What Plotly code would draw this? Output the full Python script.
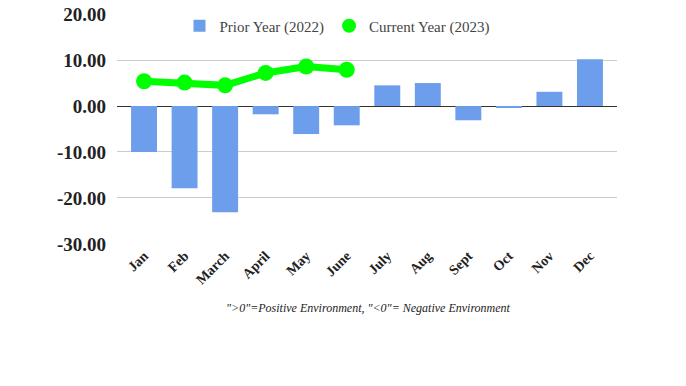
import plotly.graph_objects as go

months = ["Jan", "Feb", "March", "April", "May", "June", "July", "Aug", "Sept", "Oct", "Nov", "Dec"]
prior_year = [-10.0, -17.9, -23.1, -1.8, -6.1, -4.2, 4.5, 5.0, -3.1, -0.3, 3.1, 10.2]
current_months = ["Jan", "Feb", "March", "April", "May", "June"]
current_year = [5.4, 5.1, 4.5, 7.2, 8.6, 7.9]
y_ticks = [20, 10, 0, -10, -20, -30]
y_tick_text = ["20.00", "10.00", "0.00", "-10.00", "-20.00", "-30.00"]

serif = "Liberation Serif, Times New Roman, serif"

fig = go.Figure()
fig.add_trace(go.Bar(x=months, y=prior_year, name="Prior Year (2022)",
                     marker=dict(color="#6d9eeb", line=dict(width=0))))
fig.add_trace(go.Scatter(x=current_months, y=current_year, name="Current Year (2023)",
                         mode="lines+markers", showlegend=False,
                         line=dict(color="#00ff00", width=7),
                         marker=dict(color="#00ff00", size=16)))
# legend entry showing only the marker, as in the reference
fig.add_trace(go.Scatter(x=[None], y=[None], name="Current Year (2023)",
                         mode="markers", marker=dict(color="#00ff00", size=14)))

fig.update_layout(
    width=686, height=386,
    margin=dict(l=117, r=69, t=14, b=142, autoexpand=False),
    paper_bgcolor="white", plot_bgcolor="white",
    bargap=0.36,
    font=dict(family=serif, color="#222"),
    showlegend=True,
    legend=dict(orientation="h", x=0.44, y=0.948, xanchor="center", yanchor="middle",
                font=dict(family=serif, size=15, color="#444"),
                bgcolor="rgba(0,0,0,0)", itemwidth=30, tracegroupgap=0),
    xaxis=dict(type="category", range=[-0.667, 11.667], tickangle=-45, automargin=False,
               tickfont=dict(family=serif, size=14, color="#222", weight="bold"),
               showgrid=False, showline=False, ticks=""),
    yaxis=dict(range=[-30.03, 20.03], tickvals=y_ticks, ticktext=y_tick_text, automargin=False,
               tickfont=dict(family=serif, size=19, color="#222", weight="bold"),
               showgrid=True, gridcolor="#cccccc", gridwidth=1,
               zeroline=True, zerolinecolor="#333333", zerolinewidth=1,
               showline=False, ticks="", ticklabelstandoff=10, ticklabeloverflow="allow"),
    annotations=[dict(
        text='<i>"&gt;0"=Positive Environment, "&lt;0"= Negative Environment</i>',
        xref="paper", yref="paper", x=0.502, y=-0.278, xanchor="center", yanchor="middle",
        showarrow=False, font=dict(family=serif, size=12, color="#222"))]
)

fig.write_html("out.html", config={"displayModeBar": False},
               post_script="document.body.style.margin='0';document.body.style.padding='0';")
